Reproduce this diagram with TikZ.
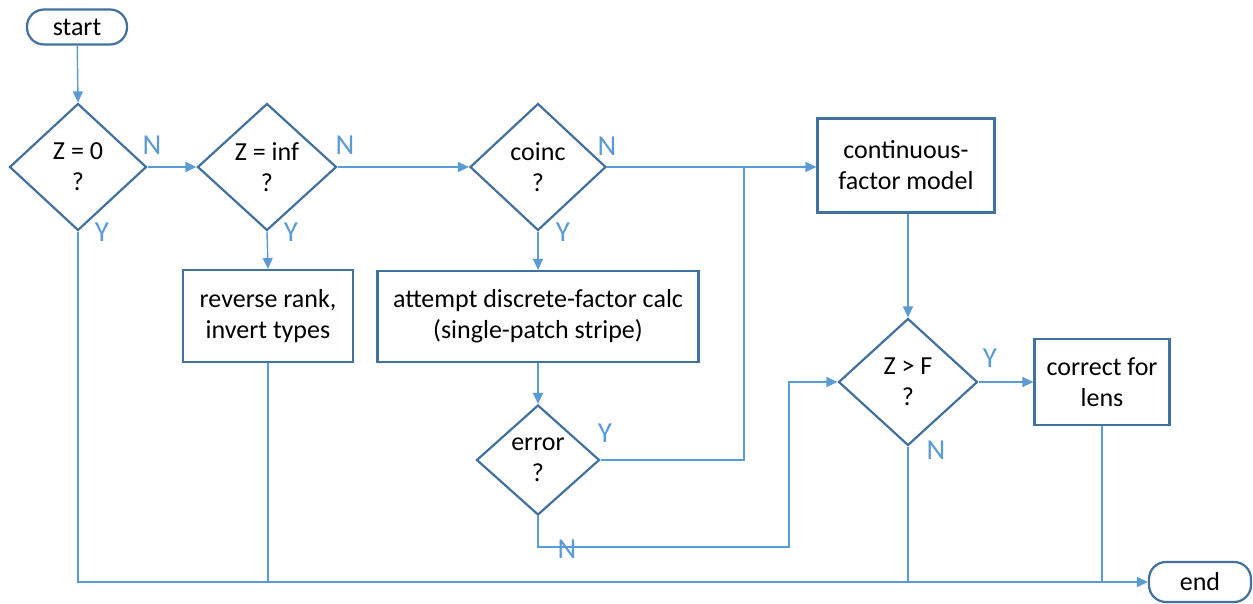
\documentclass[tikz,border=0pt]{standalone}
\usepackage{fontspec}
\setmainfont{Carlito}
\usetikzlibrary{shapes.geometric,arrows.meta}
\definecolor{boxc}{HTML}{41719C}
\definecolor{linec}{HTML}{5B9BD5}
\begin{document}
\begin{tikzpicture}[x=1pt,y=1pt,
  every node/.style={font=\fontsize{26}{31}\selectfont},
  box/.style={draw=boxc,line width=2.2pt,rectangle,inner sep=0pt,align=center},
  term/.style={draw=boxc,line width=2.2pt,rectangle,rounded corners=17pt,inner sep=0pt,align=center},
  dec/.style={draw=boxc,line width=2.2pt,diamond,inner sep=0pt,align=center},
  conn/.style={draw=linec,line width=1.4pt},
  arr/.style={conn,-{Triangle[length=11pt,width=10pt]}},
  lab/.style={text=linec,font=\fontsize{29}{32}\selectfont,inner sep=0pt}]
\useasboundingbox (0,0) rectangle (1253,-603);
\node[term,minimum width=100,minimum height=35] (start) at (77,-27) {start};
\node[dec,minimum width=137,minimum height=127] (z0) at (78,-167) {Z = 0\\?};
\node[dec,minimum width=139,minimum height=127] (zinf) at (267,-167) {Z = inf\\?};
\node[dec,minimum width=136,minimum height=127] (coinc) at (538,-167) {coinc\\?};
\node[box,minimum width=177,minimum height=94] (cont) at (906,-165.5) {continuous-\\factor model};
\node[box,minimum width=170,minimum height=92] (rev) at (268,-316) {reverse rank,\\invert types};
\node[box,minimum width=321,minimum height=91] (att) at (538,-316.5) {attempt discrete-factor calc\\(single-patch stripe)};
\node[dec,minimum width=123,minimum height=110] (err) at (538,-460) {error\\?};
\node[dec,minimum width=139,minimum height=127] (zf) at (908,-382) {Z {>} F\\?};
\node[box,minimum width=135,minimum height=86] (corr) at (1102,-382) {correct for\\lens};
\node[term,minimum width=102,minimum height=40] (end) at (1200,-582) {end};
\coordinate (j) at (744,-167);
\coordinate (e1) at (789,-547);
% connectors
\draw[arr] (start) -- (z0.north);
\draw[arr] (z0.east) -- (zinf.west);
\draw[arr] (zinf.east) -- (coinc.west);
\draw[arr] (coinc.east) -- (coinc.east -| cont.west);
\draw[conn] (err.east) -| (j);
\draw[arr] (zinf.south) -- (rev.north);
\draw[arr] (coinc.south) -- (att.north);
\draw[arr] (att.south) -- (err.north);
\draw[arr] (err.south) |- (e1) |- (zf.west);
\draw[arr] (cont.south -| zf.north) -- (zf.north);
\draw[arr] (zf.east) -- (corr.west);
\draw[arr] (z0.south) |- (end.west);
\draw[conn] (rev.south) -- (rev.south |- end.west);
\draw[conn] (zf.south) -- (zf.south |- end.west);
\draw[conn] (corr.south) -- (corr.south |- end.west);
% labels
\node[lab] (l1) at (152,-145) {N};
\node[lab] (l2) at (102,-232) {Y};
\node[lab] (l3) at (345,-145) {N};
\node[lab] (l4) at (291,-232) {Y};
\node[lab] (l5) at (607,-146) {N};
\node[lab] (l6) at (563,-232) {Y};
\node[lab] (l7) at (605,-433) {Y};
\node[lab] (l8) at (567,-549) {N};
\node[lab] (l9) at (990,-358) {Y};
\node[lab] (l10) at (936,-450) {N};
\end{tikzpicture}
\end{document}
